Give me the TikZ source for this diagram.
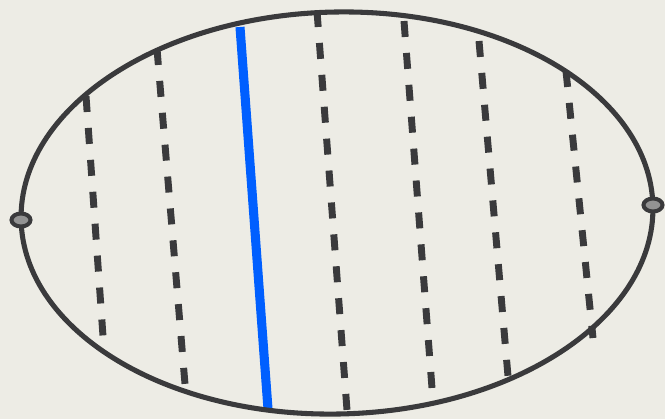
\documentclass[tikz,border=0pt]{standalone}
\usepackage{xcolor}
\definecolor{colPaper}{HTML}{EDECE5}
\definecolor{colInk}{HTML}{3A3A3C}
\definecolor{colCut}{HTML}{005FFF}
\colorlet{colPin}{gray!85}
\usetikzlibrary{calc}
\tikzset{
	rim/.style={draw=colInk, line width=3.8pt},
	fibre/.style={draw=colInk, line width=5.2pt, dash pattern=on 12pt off 12pt},
	cutline/.style={draw=colCut, line width=6.8pt},
	pinbox/.style={draw=colInk, fill=colPin, line width=3pt},
}

\begin{document}
\begin{tikzpicture}[x=0.75pt, y=-0.75pt]
	% Paper
	\fill[colPaper] (0,0) rectangle (665,419);
	\useasboundingbox (0,0) rectangle (665,419);

	% Fibres across the disc
	\coordinate (f1a) at (86,96);   \coordinate (f1b) at (103,336);
	\coordinate (f2a) at (157,49);  \coordinate (f2b) at (185,384);
	\coordinate (f3a) at (317,11);  \coordinate (f3b) at (347,410);
	\coordinate (f4a) at (404,21);  \coordinate (f4b) at (432,388);
	\coordinate (f5a) at (479,41);  \coordinate (f5b) at (508,376);
	\coordinate (f6a) at (566,71);  \coordinate (f6b) at (593,338);
	\foreach \i in {1,...,6}
		\draw[fibre] (f\i a) -- (f\i b);

	% Cut
	\coordinate (cuta) at (240,27);
	\coordinate (cutb) at (268,409);
	\draw[cutline] (cuta) -- (cutb);

	% Rim
	\draw[rim, rotate around={1.3:(337,213)}] (337,213) ellipse [x radius=316, y radius=201];

	% Pins at the ends
	\coordinate (pinL) at (21,220);
	\coordinate (pinR) at (653,205);
	\draw[pinbox] (pinL) ellipse [x radius=9.5, y radius=6.5];
	\draw[pinbox] (pinR) ellipse [x radius=9.5, y radius=6.5];
\end{tikzpicture}
\end{document}
